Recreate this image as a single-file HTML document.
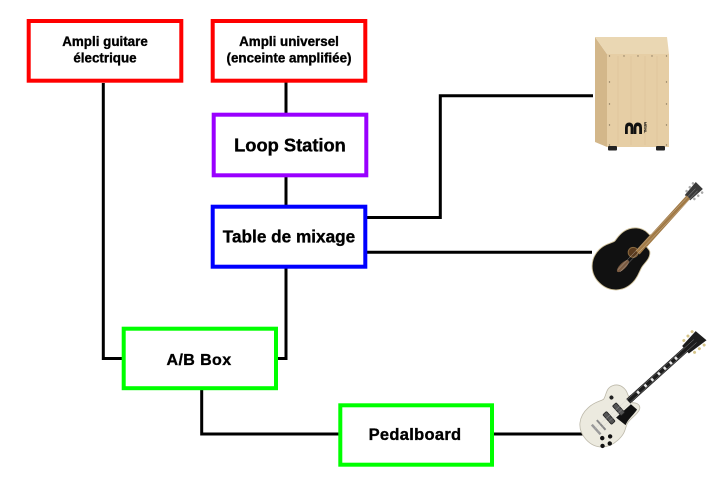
<!DOCTYPE html>
<html>
<head>
<meta charset="utf-8">
<style>
html,body{margin:0;padding:0;background:#fff;}
svg{display:block;}
text{font-family:"Liberation Sans",Arial,sans-serif;font-weight:bold;fill:#000;}
.lbl text{stroke:#000;stroke-width:0.35;}
</style>
</head>
<body>
<svg width="728" height="496" viewBox="0 0 728 496" xmlns="http://www.w3.org/2000/svg">
<rect width="728" height="496" fill="#fff"/>

<!-- connectors -->
<g stroke="#000" stroke-width="3" fill="none">
  <polyline points="103.3,83 103.3,358.5 124,358.5"/>
  <line x1="286" y1="82" x2="286" y2="114"/>
  <line x1="286" y1="176" x2="286" y2="206"/>
  <polyline points="276,358.5 286,358.5 286,267"/>
  <polyline points="366,217.5 440.3,217.5 440.3,95.7 593,95.7"/>
  <line x1="366" y1="252.3" x2="592" y2="252.3"/>
  <polyline points="201.7,388 201.7,434 341,434"/>
  <line x1="491" y1="434" x2="583" y2="434"/>
</g>

<!-- boxes -->
<g stroke-width="4" fill="#fff">
  <rect x="28.7" y="21" width="152.6" height="59.7" stroke="#ff0000"/>
  <rect x="212.7" y="21" width="152.6" height="59.7" stroke="#ff0000"/>
  <rect x="213.7" y="114.7" width="152.6" height="60.6" stroke="#9900ff"/>
  <rect x="212.7" y="206.7" width="152.6" height="60" stroke="#0000ff"/>
  <rect x="123.7" y="328.7" width="152.3" height="59.5" stroke="#00ff00"/>
  <rect x="340.3" y="405.3" width="151.7" height="59.4" stroke="#00ff00"/>
</g>

<!-- labels -->
<g text-anchor="middle" class="lbl">
  <text x="105" y="46.2" font-size="13.4">Ampli guitare</text>
  <text x="105" y="62.6" font-size="13.4">électrique</text>
  <text x="289" y="46.2" font-size="13.4">Ampli universel</text>
  <text x="289" y="62.6" font-size="13.4">(enceinte amplifiée)</text>
  <text x="290" y="151.6" font-size="18.3">Loop Station</text>
  <text x="289" y="242.3" font-size="17.2">Table de mixage</text>
  <text x="199" y="364.8" font-size="16" letter-spacing="0.4">A/B Box</text>
  <text x="415" y="440.2" font-size="16.5" letter-spacing="0.3">Pedalboard</text>
</g>

<!-- cajon -->
<g>
  <polygon points="595,37 607,54 607,147 595,142" fill="#d3b78a"/>
  <polygon points="595,37 667,37 669,54 607,54" fill="#ead7b3"/>
  <rect x="607" y="54" width="62" height="93" fill="#e6cea5"/>
  <g stroke="#dcc398" stroke-width="0.6">
    <line x1="618" y1="56" x2="618" y2="145"/>
    <line x1="631" y1="56" x2="631" y2="145"/>
    <line x1="645" y1="56" x2="645" y2="145"/>
    <line x1="657" y1="56" x2="657" y2="145"/>
  </g>
  <g fill="#8a7a60">
    <circle cx="609.5" cy="56" r="0.7"/><circle cx="624" cy="56" r="0.7"/><circle cx="638" cy="56" r="0.7"/><circle cx="652" cy="56" r="0.7"/><circle cx="666.5" cy="56" r="0.7"/>
    <circle cx="609.5" cy="82" r="0.7"/><circle cx="666.5" cy="82" r="0.7"/>
    <circle cx="609.5" cy="104" r="0.7"/><circle cx="666.5" cy="104" r="0.7"/>
    <circle cx="609.5" cy="125" r="0.7"/><circle cx="666.5" cy="125" r="0.7"/>
    <circle cx="609.5" cy="145" r="0.7"/><circle cx="666.5" cy="145" r="0.7"/>
  </g>
  <path d="M625,134 L625,128 Q625,122.5 629.2,122.5 Q633.4,122.5 633.4,128 L633.4,134 L630.6,134 L630.6,128 Q630.6,126 629.2,126 Q627.8,126 627.8,128 L627.8,134 Z" fill="#111"/>
  <path d="M633.6,134 L633.6,128 Q633.6,122.5 637.8,122.5 Q642,122.5 642,128 L642,134 L639.2,134 L639.2,128 Q639.2,126 637.8,126 Q636.4,126 636.4,128 L636.4,134 Z" fill="#111"/>
  <text x="0" y="0" font-size="3.6" transform="translate(644,122) rotate(90)">MEINL</text>
  <rect x="608" y="146" width="9" height="4.5" rx="1" fill="#222"/>
  <rect x="656" y="146" width="9" height="4.5" rx="1" fill="#222"/>
</g>

<!-- acoustic guitar -->
<g transform="translate(618,264) rotate(-45)">
  <polygon points="96,-1.5 113,-3 113,7 96,6" fill="#3a3a3a"/>
  <g fill="#aaa"><circle cx="100" cy="-3" r="1.3"/><circle cx="105" cy="-3.5" r="1.3"/><circle cx="110" cy="-4" r="1.3"/><circle cx="100" cy="8" r="1.3"/><circle cx="105" cy="8.5" r="1.3"/><circle cx="110" cy="9" r="1.3"/></g>
  <polygon points="30,3 30,8.5 97,5 97,0" fill="#a27a45"/>
  <path d="M-26.5,0 C-26.5,-14 -16,-23.5 -3,-23.5 C6,-23.5 10,-19 14,-18.5 C18,-19 21,-20 27,-19 C37,-17 43,-9 43,-1 L43,3 L34,5 C31,7 33,12 31,14 C27,19 20,18 15,19 C10,20 6,23.5 -3,23.5 C-16,23.5 -26.5,14 -26.5,0 Z" fill="#111" stroke="#cdbf98" stroke-width="0.9"/>
  <circle cx="19" cy="2.5" r="5" fill="#5a3b1e" stroke="#8a6a40" stroke-width="1"/>
  <polygon points="22,3 22,8.5 44,7 44,2" fill="#a27a45"/>
  <ellipse cx="2" cy="5" rx="8" ry="3" fill="#7a5a40"/>
  <line x1="-4" y1="4" x2="108" y2="1.5" stroke="#ddd" stroke-width="0.3"/>
  <line x1="-4" y1="7" x2="108" y2="4.5" stroke="#ddd" stroke-width="0.3"/>
</g>

<!-- electric guitar -->
<g transform="translate(603,424) rotate(-42)">
  <path d="M111,-5 L131,-7 L133,7 L111,5 Z" fill="#1c1c1c"/>
  <g fill="#d6c58a"><circle cx="116" cy="-8" r="1.5"/><circle cx="122" cy="-8.5" r="1.5"/><circle cx="128" cy="-9" r="1.5"/><circle cx="116" cy="8" r="1.5"/><circle cx="122" cy="8.5" r="1.5"/><circle cx="128" cy="9" r="1.5"/></g>
  <rect x="34" y="-3" width="78" height="6" fill="#1d1d1d"/>
  <g fill="#e8e8e8"><rect x="46" y="-1.5" width="2.5" height="3"/><rect x="56" y="-1.5" width="2.5" height="3"/><rect x="65" y="-1.5" width="2.5" height="3"/><rect x="74" y="-1.5" width="2.5" height="3"/><rect x="82" y="-1.5" width="2.5" height="3"/><rect x="90" y="-1.5" width="2.5" height="3"/><rect x="97" y="-1.5" width="2.5" height="3"/></g>
  <path d="M-23,0 C-23,-14 -13,-22 0,-22 C9,-22 12,-19 17,-18 C22,-19 26,-25 33,-22 C40,-19 41,-11 38,-5 L36,4 C40,7 41,12 36,14 C30,16 24,14 18,16 C12,19 10,22 0,22 C-13,22 -23,14 -23,0 Z" fill="#eceadf" stroke="#bdb9aa" stroke-width="0.8"/>
  <path d="M14,4 L34,4 L35,12 C28,14 22,13 16,16 Z" fill="#111"/>
  <rect x="34" y="-3" width="6" height="6" fill="#1d1d1d"/>
  <rect x="19" y="-7" width="5" height="13" rx="1" fill="#555" stroke="#222" stroke-width="0.8"/>
  <rect x="6" y="-7" width="5" height="13" rx="1" fill="#555" stroke="#222" stroke-width="0.8"/>
  <rect x="-3" y="-7" width="2" height="13" fill="#888"/>
  <rect x="-10" y="-7" width="2.5" height="13" fill="#999"/>
  <circle cx="24" cy="-14" r="2" fill="#222"/>
  <g fill="#111"><circle cx="-10" cy="10" r="2.2"/><circle cx="-3" cy="14" r="2.2"/><circle cx="-15" cy="16" r="2.2"/><circle cx="-8" cy="19" r="2.2"/></g>
  <line x1="-9" y1="-2" x2="124" y2="-2" stroke="#ccc" stroke-width="0.3"/>
  <line x1="-9" y1="2" x2="124" y2="2" stroke="#ccc" stroke-width="0.3"/>
</g>
</svg>
</body>
</html>
